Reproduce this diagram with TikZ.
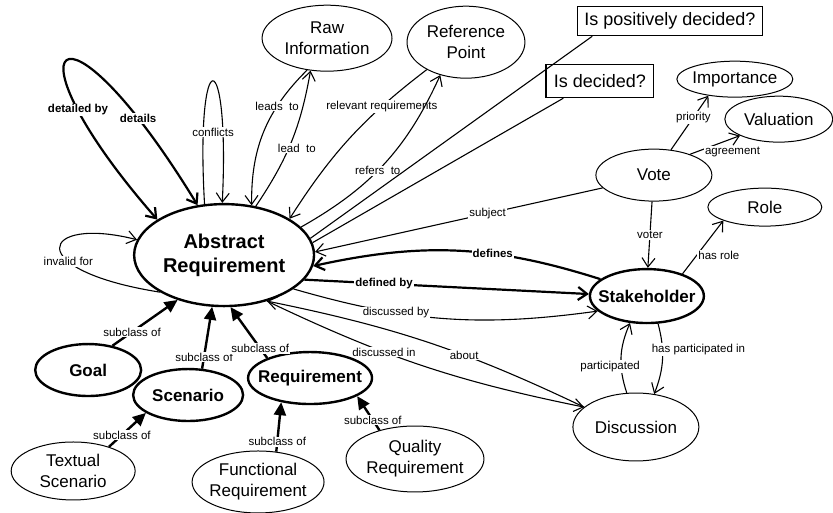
\documentclass[tikz,border=0pt]{standalone}
\usepackage{fontspec}
\setmainfont{Liberation Sans}
\usepackage{tikz}
\usetikzlibrary{shapes.geometric,arrows.meta}

\begin{document}
\begin{tikzpicture}[scale=1.000000,x=1pt,y=1pt,
  >={Straight Barb[length=9pt,width=13pt]},
  cls/.style={ellipse,draw,line width=1pt,inner xsep=-20pt,inner ysep=0pt,align=center,font=\fontsize{17}{21}\selectfont},
  bcls/.style={cls,line width=2.4pt,font=\fontsize{17}{21}\selectfont\bfseries},
  qbox/.style={rectangle,draw,line width=1.2pt,inner sep=0pt,font=\fontsize{18}{22}\selectfont},
  rel/.style={line width=1.1pt,->},
  brel/.style={rel,line width=2.2pt},
  sub/.style={line width=2.4pt,-{Triangle[length=13pt,width=12pt]}},
  lbl/.style={fill=white,inner sep=1pt,font=\fontsize{11.5}{13}\selectfont},
  blbl/.style={lbl,font=\fontsize{11.5}{13}\selectfont\bfseries}]
\filldraw[color=white,use as bounding box] (0.000000,-512.000000) rectangle (833.000000,0.000000);
% Drawing nodes
\draw (224.000000,-255.000000) node[bcls,minimum width=180pt,minimum height=102pt,font=\fontsize{20}{24}\selectfont\bfseries] (ar) {Abstract\\Requirement};
\draw (327.000000,-38.000000) node[cls,minimum width=130pt,minimum height=66pt] (raw) {Raw\\Information};
\draw (466.000000,-42.000000) node[cls,minimum width=118pt,minimum height=72pt] (ref) {Reference\\Point};
\draw (670.000000,-21.000000) node[qbox,minimum width=185pt,minimum height=29pt] (posq) {Is positively decided?};
\draw (600.000000,-81.000000) node[qbox,minimum width=108pt,minimum height=33pt] (decq) {Is decided?};
\draw (735.000000,-79.000000) node[cls,minimum width=116pt,minimum height=36pt] (imp) {Importance};
\draw (779.000000,-119.000000) node[cls,minimum width=108pt,minimum height=46pt] (val) {Valuation};
\draw (654.000000,-175.000000) node[cls,minimum width=116pt,minimum height=52pt] (vote) {Vote};
\draw (765.000000,-207.000000) node[cls,minimum width=114pt,minimum height=38pt] (role) {Role};
\draw (647.000000,-296.000000) node[bcls,minimum width=114pt,minimum height=54pt] (stake) {Stakeholder};
\draw (636.000000,-427.000000) node[cls,minimum width=126pt,minimum height=68pt] (disc) {Discussion};
\draw (415.000000,-459.000000) node[cls,minimum width=138pt,minimum height=66pt] (qual) {Quality\\Requirement};
\draw (258.000000,-482.000000) node[cls,minimum width=132pt,minimum height=62pt] (func) {Functional\\Requirement};
\draw (73.000000,-471.000000) node[cls,minimum width=124pt,minimum height=58pt] (text) {Textual\\Scenario};
\draw (88.000000,-370.000000) node[bcls,minimum width=106pt,minimum height=52pt] (goal) {Goal};
\draw (188.000000,-395.000000) node[bcls,minimum width=110pt,minimum height=52pt] (scen) {Scenario};
\draw (310.000000,-378.000000) node[bcls,minimum width=124pt,minimum height=52pt] (req) {Requirement};
% Done with nodes; drawing edges
% Edge 1: ar ar detailed by / details
\draw[brel,<->] (ar.152) .. controls (0.000000,-40.000000) and (60.000000,20.000000) .. node[blbl,pos=0.25] (l-detailedby) {detailed by} node[blbl,pos=0.84] (l-details) {details} (ar.118);
% Edge 2: ar ar conflicts
\draw[rel] (ar.111) .. controls (195.000000,-40.000000) and (230.000000,-40.000000) .. (ar.92);
\draw (213.000000,-132.000000) node[lbl] (l-conflicts) {conflicts};
% Edge 3: raw ar leads to
\draw[rel] (raw.238) to[bend right=23] node[lbl,pos=0.3] (l-leadsto) {leads\ \ to} (ar.61);
% Edge 4: ar raw lead to
\draw[rel] (ar.57) to[bend right=12] node[lbl,pos=0.45,xshift=8pt] (l-leadto) {lead\ \ to} (raw.243);
% Edge 5: ref ar relevant requirements
\draw[rel] (ref.215) to[bend right=10] node[lbl,pos=0.27] (l-relevant) {relevant requirements} (ar.29);
% Edge 6: ar ref refers to
\draw[rel] (ar.20) to[bend right=18] node[lbl,pos=0.45] (l-refers) {refers\ \ to} (ref.232);
% Edge 7: ar posq / decq
\draw[line width=1.1pt] (ar.11) -- (posq.191);
\draw[line width=1.1pt] (ar.8) -- (decq.205);
% Edge 8: vote ar subject
\draw[rel] (vote.194) -- node[lbl,pos=0.4] (l-subject) {subject} (ar.2);
% Edge 9: stake ar defines
\draw[brel] (stake.160) to[bend right=15] node[blbl,pos=0.37] (l-defines) {defines} (ar.-7);
% Edge 10: ar stake defined by
\draw[brel] (ar.-17) -- node[blbl,pos=0.28] (l-definedby) {defined by} (stake.178);
% Edge 11: ar stake discussed by
\draw[rel] (ar.-26) to[bend right=12] node[lbl,pos=0.33] (l-discby) {discussed by} (stake.197);
% Edge 12: ar disc discussed in
\draw[rel] (ar.-47) to[bend right=7] node[lbl,pos=0.37] (l-discin) {discussed in} (disc.159);
% Edge 13: disc ar about
\draw[rel] (disc.159) to[bend right=7] node[lbl,pos=0.38] (l-about) {about} (ar.-47);
% Edge 14: vote stake voter
\draw[rel] (vote.266) -- node[lbl] (l-voter) {voter} (stake.88);
% Edge 15: stake role has role
\draw[rel] (stake.32) -- node[lbl,pos=0.35,anchor=west] (l-hasrole) {has role} (role.198);
% Edge 16: vote imp priority
\draw[rel] (vote.56) -- node[lbl,pos=0.6] (l-priority) {priority} (imp.212);
% Edge 17: vote val agreement
\draw[rel] (vote.30) -- node[lbl,pos=0.27,anchor=west,yshift=-3pt] (l-agreement) {agreement} (val.203);
% Edge 18: disc stake participated
\draw[rel] (disc.105) to[bend left=21] node[lbl,pos=0.37,xshift=-11pt] (l-part) {participated} (stake.238);
% Edge 19: stake disc has participated in
\draw[rel] (stake.-68) to[bend left=18] node[lbl,pos=0.35,xshift=36pt] (l-haspart) {has participated in} (disc.61);
% Edge 20: ar ar invalid for
\draw[rel] (ar.210) .. controls (20.000000,-270.000000) and (40.000000,-215.000000) .. node[lbl,pos=0.35] (l-invalid) {invalid for} (ar.170);
% Edge 21-26: subclass of
\draw[sub] (goal.45) -- node[lbl,pos=0.3] (l-sub1) {subclass of} (ar.224);
\draw[sub] (scen.62) -- node[lbl,pos=0.19] (l-sub2) {subclass of} (ar.257);
\draw[sub] (req.155) -- node[lbl,pos=0.19] (l-sub3) {subclass of} (ar.277);
\draw[sub] (text.34) -- node[lbl,pos=0.35] (l-sub4) {subclass of} (scen.203);
\draw[sub] (func.59) -- node[lbl,pos=0.2] (l-sub5) {subclass of} (req.220);
\draw[sub] (qual.141) -- node[lbl,pos=0.3] (l-sub6) {subclass of} (req.-21);
% Done with edges
\end{tikzpicture}
\end{document}
